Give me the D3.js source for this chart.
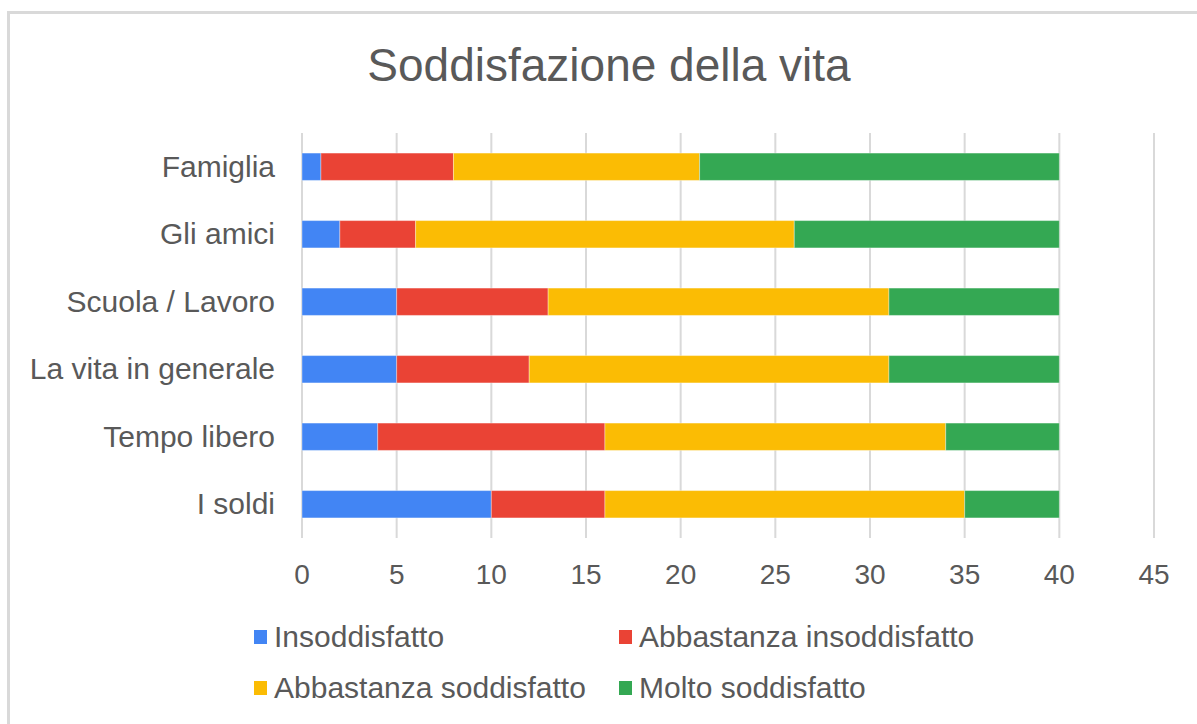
<!DOCTYPE html>
<html>
<head>
<meta charset="utf-8">
<script src="https://cdn.jsdelivr.net/npm/d3@7"></script>
<style>
  html, body { margin: 0; padding: 0; background: #fff; }
  svg { display: block; font-family: "Liberation Sans", Arial, sans-serif; }
</style>
</head>
<body>
<svg id="chart" width="1197" height="724"></svg>
<script>
const title = "Soddisfazione della vita";
const categories = ["Famiglia", "Gli amici", "Scuola / Lavoro", "La vita in generale", "Tempo libero", "I soldi"];
const seriesNames = ["Insoddisfatto", "Abbastanza insoddisfatto", "Abbastanza soddisfatto", "Molto soddisfatto"];
const insoddisfatto = [1, 2, 5, 5, 4, 10];
const abbInsoddisfatto = [7, 4, 8, 7, 12, 6];
const abbSoddisfatto = [13, 20, 18, 19, 18, 19];
const moltoSoddisfatto = [19, 14, 9, 9, 6, 5];
const xTicks = [0, 5, 10, 15, 20, 25, 30, 35, 40, 45];
const colors = ["#4285F4", "#EA4335", "#FBBC04", "#34A853"];

const seriesValues = [insoddisfatto, abbInsoddisfatto, abbSoddisfatto, moltoSoddisfatto];
const rows = categories.map((c, i) => {
  const r = { cat: c };
  seriesNames.forEach((s, j) => r[s] = seriesValues[j][i]);
  return r;
});

const svg = d3.select("#chart");
const textColor = "#595959";

// outer frame
svg.append("rect").attr("x", 8.5).attr("y", 12.5).attr("width", 1300).attr("height", 800)
  .attr("fill", "none").attr("stroke", "#d9d9d9").attr("stroke-width", 3);

// title
svg.append("text").attr("x", 609).attr("y", 81).attr("text-anchor", "middle")
  .attr("font-size", 46).attr("fill", textColor).text(title);

const x = d3.scaleLinear().domain([0, 45]).range([302, 1154]);
const y = d3.scaleBand().domain(categories).range([133, 538]).paddingInner(0.595).paddingOuter(0.2975);

// grid
svg.append("g").selectAll("line").data(xTicks).join("line")
  .attr("x1", d => x(d)).attr("x2", d => x(d))
  .attr("y1", 133).attr("y2", 538)
  .attr("stroke", "#d9d9d9").attr("stroke-width", 2);

// x tick labels
svg.append("g").selectAll("text").data(xTicks).join("text")
  .attr("x", d => x(d)).attr("y", 584).attr("text-anchor", "middle")
  .attr("font-size", 28).attr("fill", textColor).text(d => d);

// stacked bars
const stack = d3.stack().keys(seriesNames);
const stacked = stack(rows);
svg.append("g").selectAll("g").data(stacked).join("g")
  .attr("fill", (d, i) => colors[i])
  .selectAll("rect").data(d => d).join("rect")
  .attr("x", d => x(d[0]))
  .attr("width", d => x(d[1]) - x(d[0]))
  .attr("y", d => y(d.data.cat))
  .attr("height", y.bandwidth())
  .attr("stroke", "#ffffff").attr("stroke-opacity", 0.35).attr("stroke-width", 1);

// category labels
svg.append("g").selectAll("text").data(categories).join("text")
  .attr("x", 275).attr("y", d => y(d) + y.bandwidth() / 2 + 10)
  .attr("text-anchor", "end").attr("font-size", 30).attr("fill", textColor).text(d => d);

// legend
const legendPos = [[254, 647], [619, 647], [254, 698], [619, 698]];
const lg = svg.append("g").selectAll("g").data(seriesNames).join("g")
  .attr("transform", (d, i) => `translate(${legendPos[i][0]},${legendPos[i][1]})`);
lg.append("rect").attr("x", 0).attr("y", -17).attr("width", 13).attr("height", 14)
  .attr("fill", (d, i) => colors[i]);
lg.append("text").attr("x", 20).attr("y", 0).attr("font-size", 30).attr("fill", textColor).text(d => d);
</script>
</body>
</html>
